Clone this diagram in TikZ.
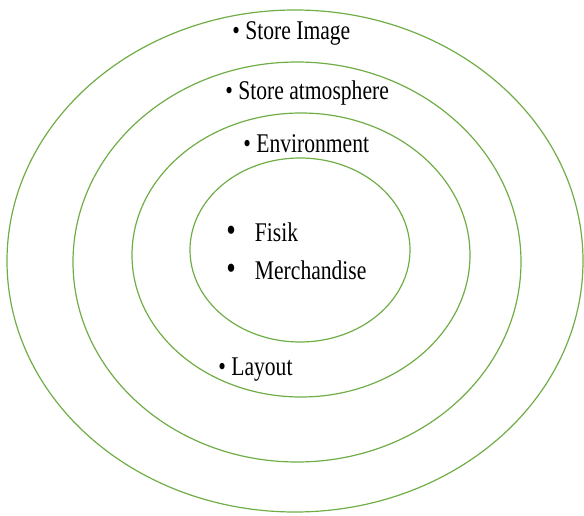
\documentclass[tikz,border=0pt]{standalone}
\usepackage{fontspec}
\setmainfont{Liberation Serif}[FakeStretch=0.8]
\usepackage{xcolor}
\usetikzlibrary{positioning,shapes.geometric}
\definecolor{ringgreen}{RGB}{112,173,71}
\newcommand{\bigdot}{{\fontsize{17}{18}\selectfont\textbullet}}

\begin{document}
\begin{tikzpicture}[
			x=0.5pt, y=0.5pt,
			ring/.style={
				draw=ringgreen,
				line width=0.6pt,
				ellipse,
				inner sep=0pt
			},
			item/.style={
				anchor=base west,
				inner sep=0pt,
				font=\fontsize{13.5}{15}\selectfont
			}
			]
			\useasboundingbox (0,0) rectangle (584,515);
			
			\node[ring,minimum width=288pt,minimum height=251pt] (image) at (295,254) {};
			\node[ring,minimum width=224pt,minimum height=200pt] (atmos) at (297,253) {};
			\node[ring,minimum width=169pt,minimum height=142pt] (env) at (301,260) {};
			\node[ring,minimum width=110pt,minimum height=92pt] (core) at (300,265) {};
			
			\node[item] (si) at (232,475) {\textbullet\ Store Image};
			\node[item] (sa) at (225,415) {\textbullet\ Store atmosphere};
			\node[item] (en) at (243,362) {\textbullet\ Environment};
			\node[item] (fi) at (226,273) {\bigdot\hspace{9.5pt}Fisik};
			\node[item] (me) at (226,235) {\bigdot\hspace{9.5pt}Merchandise};
			\node[item] (la) at (218,140) {\textbullet\ Layout};
			
		\end{tikzpicture}
\end{document}
